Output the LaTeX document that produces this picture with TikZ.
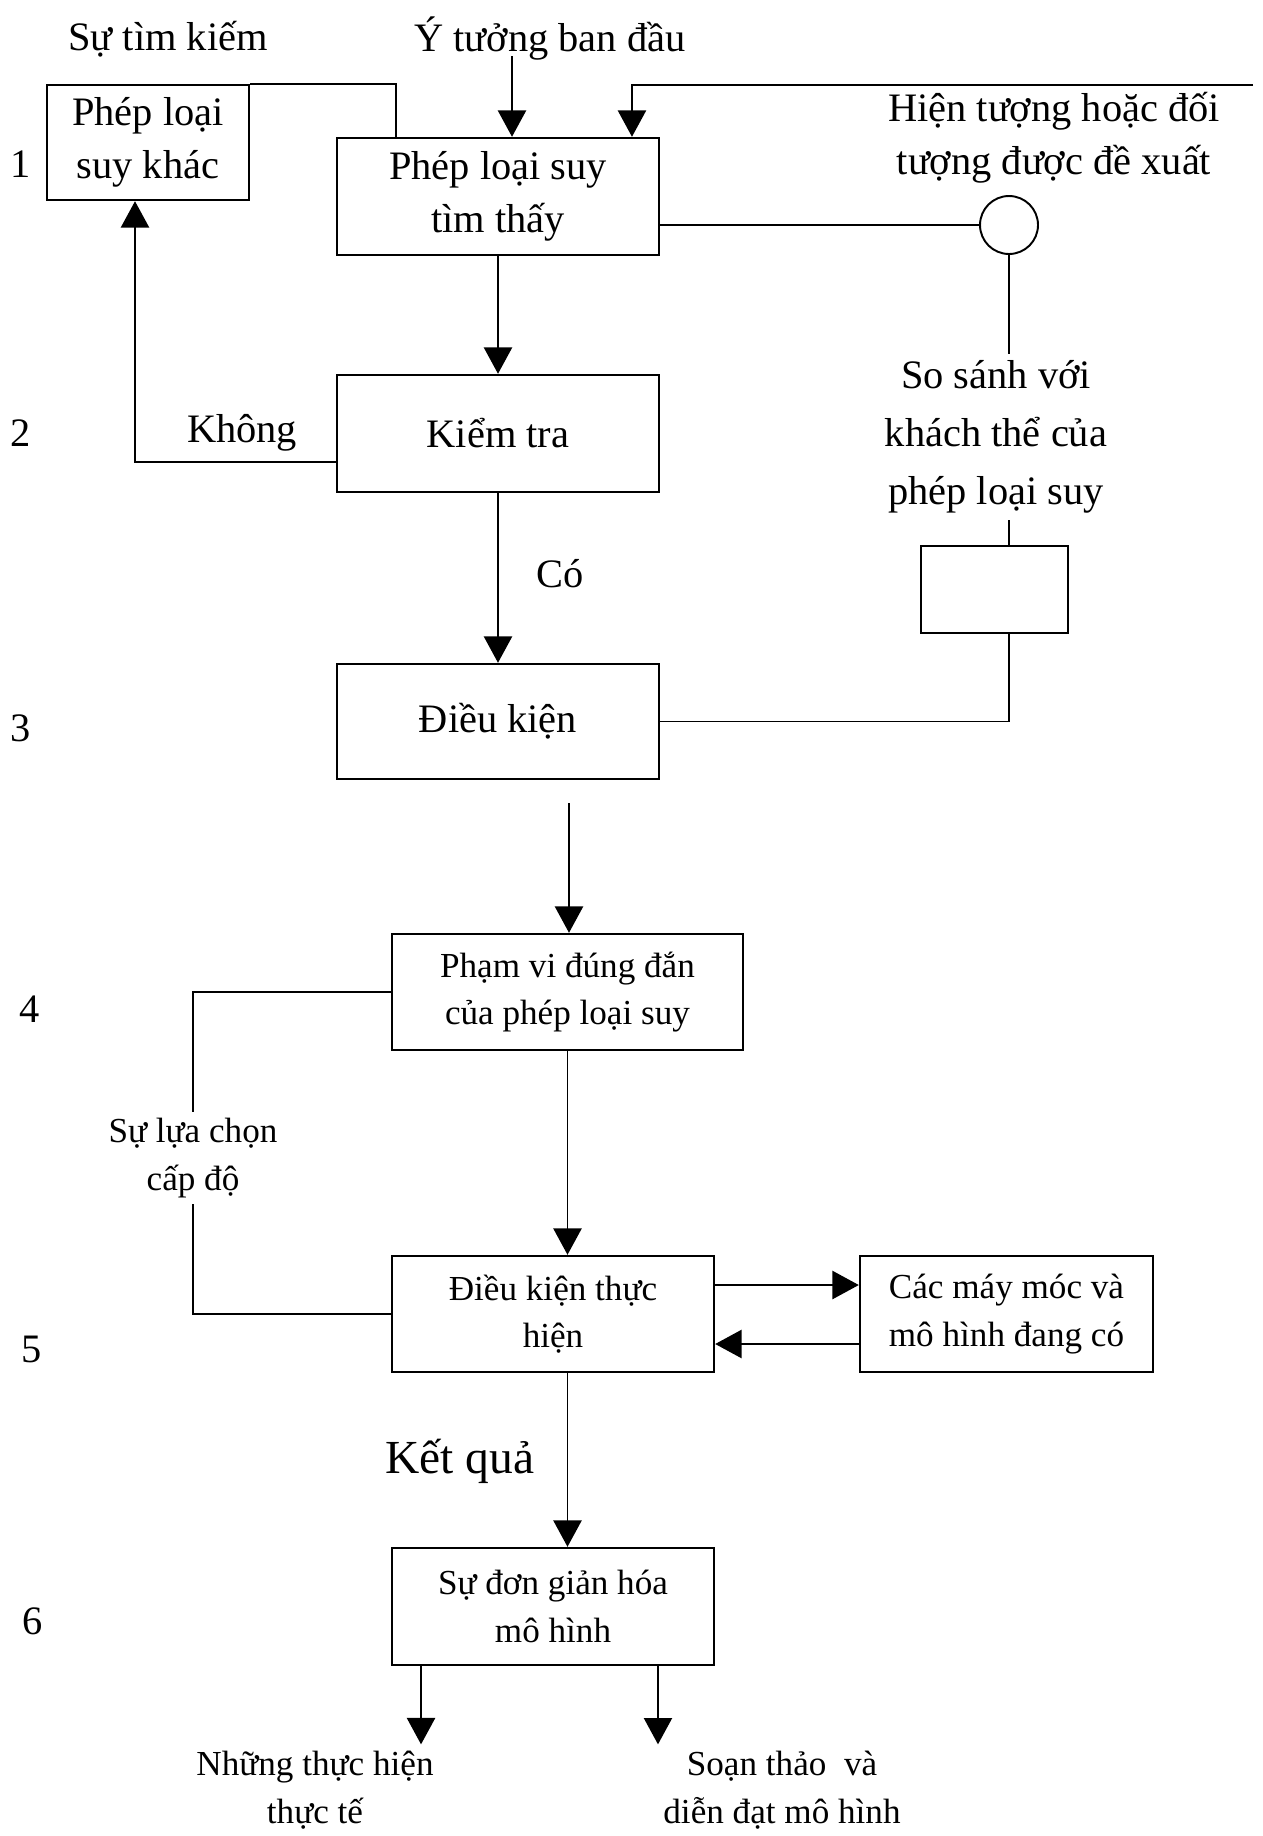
\documentclass[tikz,border=0pt]{standalone}
\usepackage{fontspec}
\setmainfont{Liberation Serif}
\usetikzlibrary{arrows.meta}

\begin{document}
\begin{tikzpicture}[
    x=0.02cm, y=-0.02cm,
    >={Triangle[length=15pt,width=16pt]},
    line width=1.1pt,
    font=\fontsize{23}{30}\selectfont,
    box/.style={draw, line width=1.4pt, align=center, inner sep=0pt},
    small/.style={font=\fontsize{20}{27}\selectfont}
]
    \useasboundingbox (0,0) rectangle (1262,1836);

    % Row numbers
    \node (n1) at (21,164) {1};
    \node (n2) at (21,433) {2};
    \node (n3) at (21,728) {3};
    \node (n4) at (30,1009) {4};
    \node (n5) at (32,1349) {5};
    \node (n6) at (33,1621) {6};

    % Upper boxes
    \node[box, minimum width=4.04cm, minimum height=2.3cm] (other) at (148,142.5) {Phép loại\\suy khác};
    \node[box, minimum width=6.44cm, minimum height=2.34cm] (found) at (498,196.5) {Phép loại suy\\tìm thấy};
    \node[box, minimum width=6.44cm, minimum height=2.34cm] (test) at (498,433.5) {Kiểm tra};
    \node[box, minimum width=6.44cm, minimum height=2.3cm] (cond) at (498,721.5) {Điều kiện};
    \node[circle, draw, minimum size=1.16cm, inner sep=0pt] (obj) at (1009,225) {};
    \node[box, minimum width=2.94cm, minimum height=1.74cm] (cmp) at (994.5,589.5) {};

    % Upper labels
    \node (search) at (168,39) {Sự tìm kiếm};
    \node (idea) at (550,39) {Ý tưởng ban đầu};
    \node[align=center] (phen) at (1054,138) {Hiện tượng hoặc đối\\tượng được đề xuất};
    \node[align=center, font=\fontsize{23}{33}\selectfont] (comp) at (996,437) {So sánh với\\khách thể của\\phép loại suy};
    \node (no) at (242,433) {Không};
    \node (yes) at (560,574) {Có};

    % Upper connectors
    \coordinate (ideatop) at (512,56);
    \coordinate (back) at (1253,85);
    \draw (other.north east) -| ([xshift=-2.04cm]found.north);
    \draw[->] (ideatop) -- (ideatop |- found.north);
    \draw[->] (back) -| ([xshift=2.68cm]found.north);
    \draw (found.east |- obj.west) -- (obj.west);
    \draw (obj.south) -- (obj.south |- comp.north);
    \draw (obj.south |- comp.south) -- (obj.south |- cmp.north);
    \draw (cond.east) -| (obj.south |- cmp.south);
    \draw[->] (found.south) -- (test.north);
    \draw[->] ([yshift=-0.57cm]test.west) -| ([xshift=-0.26cm]other.south);
    \draw[->] (test.south) -- (cond.north);

    % Lower boxes
    \node[box, small, minimum width=7.02cm, minimum height=2.32cm] (range) at (567.5,992) {Phạm vi đúng đắn\\của phép loại suy};
    \node[box, small, minimum width=6.44cm, minimum height=2.32cm] (real) at (553,1314) {Điều kiện thực\\hiện};
    \node[box, small, minimum width=5.86cm, minimum height=2.32cm] (mach) at (1006.5,1314) {Các máy móc và\\mô hình đang có};
    \node[box, small, minimum width=6.44cm, minimum height=2.34cm] (simp) at (553,1606.5) {Sự đơn giản hóa\\mô hình};

    % Lower labels
    \node[small, align=center] (level) at (193,1158) {Sự lựa chọn\\cấp độ};
    \node[font=\fontsize{27}{32}\selectfont] (result) at (460,1461) {Kết quả};
    \node[small, align=center] (pract) at (315,1790) {Những thực hiện\\thực tế};
    \node[small, align=center] (draft) at (782,1790) {Soạn thảo~ và\\diễn đạt mô hình};

    % Lower connectors
    \coordinate (gap) at (569,803);
    \draw[->] (gap) -- (gap |- range.north);
    \draw (range.west) -| (level.north);
    \draw (level.south) |- (real.west);
    \draw[->] (range.south) -- (range.south |- real.north);
    \draw[->] ([yshift=0.58cm]real.east) -- ([yshift=0.58cm]real.east -| mach.west);
    \draw[->] ([yshift=-0.6cm]mach.west) -- ([yshift=-0.6cm]mach.west -| real.east);
    \draw[->] (range.south |- real.south) -- (range.south |- simp.north);
    \draw[->] ([xshift=-2.64cm]simp.south) -- ([xshift=-2.64cm]simp.south |- pract.north);
    \draw[->] ([xshift=2.1cm]simp.south) -- ([xshift=2.1cm]simp.south |- draft.north);

\end{tikzpicture}
\end{document}
